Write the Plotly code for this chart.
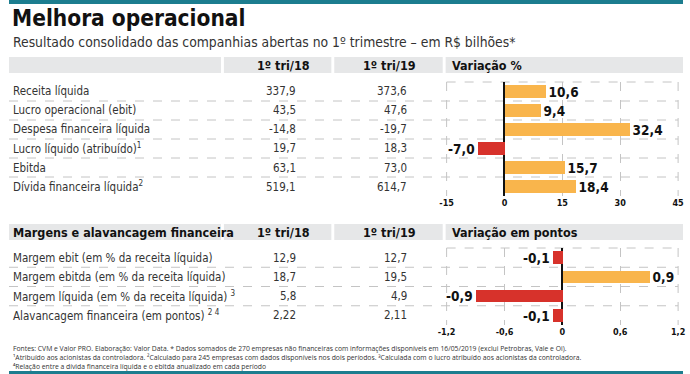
import plotly.graph_objects as go

W, H = 690, 374
COND = "Liberation Sans Narrow, DejaVu Sans Condensed, Roboto Condensed, Arial Narrow, sans-serif"

# ---- data ----
rows1 = ["Receita líquida", "Lucro operacional (ebit)", "Despesa financeira líquida",
         "Lucro líquido (atribuído)<sup>1</sup>", "Ebitda", "Dívida financeira líquida<sup>2</sup>"]
q18_1 = ["337,9", "43,5", "-14,8", "19,7", "63,1", "519,1"]
q19_1 = ["373,6", "47,6", "-19,7", "18,3", "73,0", "614,7"]
var1 = [10.6, 9.4, 32.4, -7.0, 15.7, 18.4]
x1_ticks = [-15, 0, 15, 30, 45]

rows2 = ["Margem ebit (em % da receita líquida)", "Margem ebitda (em % da receita líquida)",
         "Margem líquida (em % da receita líquida) <sup>3</sup>",
         "Alavancagem financeira (em pontos) <sup>2 4</sup>"]
q18_2 = ["12,9", "18,7", "5,8", "2,22"]
q19_2 = ["12,7", "19,5", "4,9", "2,11"]
var2 = [-0.1, 0.9, -0.9, -0.1]
x2_ticks = [-1.2, -0.6, 0, 0.6, 1.2]

ORANGE = "#f9b54c"
RED = "#d7322b"
TEAL = "#1c7d8f"
HDR = "#e6e7e8"
GRID = "#c4c4c4"


def px(x):
    return x / W


def py(y):
    return 1 - y / H


def fmt(v, d=1):
    return f"{v:.{d}f}".replace(".", ",")


def tick_label(v):
    if v == 0:
        return "0"
    return f"{v:g}".replace(".", ",")


fig = go.Figure()

bar_font = dict(family=COND, size=13.5, color="#111", weight="bold")
fig.add_trace(go.Bar(
    x=var1, y=list(range(len(var1))), orientation="h",
    marker=dict(color=[ORANGE if v >= 0 else RED for v in var1], line=dict(width=0)),
    width=0.72, text=[fmt(v) for v in var1], textposition="outside", constraintext="none",
    textfont=bar_font, cliponaxis=False,
    xaxis="x", yaxis="y", hoverinfo="skip", showlegend=False))
fig.add_trace(go.Bar(
    x=var2, y=list(range(len(var2))), orientation="h",
    marker=dict(color=[ORANGE if v >= 0 else RED for v in var2], line=dict(width=0)),
    width=0.66, text=[fmt(v) for v in var2], textposition="outside", constraintext="none",
    textfont=bar_font, cliponaxis=False,
    xaxis="x2", yaxis="y2", hoverinfo="skip", showlegend=False))

C_L, C_R = 448, 685
C1_T, C1_B = 82, 196
C2_T, C2_B = 248, 325

axis_common = dict(showgrid=True, gridcolor=GRID, griddash="dash", gridwidth=1,
                   zeroline=True, zerolinecolor="#111", zerolinewidth=1.5,
                   ticks="", showline=False, fixedrange=True, ticklabeloverflow="allow",
                   tickfont=dict(family=COND, size=9, color="#111", weight="bold"))

annotations = []
shapes = []


def txt(x, y, s, size=13, color="#333", bold=False, xanchor="left", family=COND):
    annotations.append(dict(x=px(x), y=py(y), xref="paper", yref="paper", text=s,
                            showarrow=False, xanchor=xanchor, yanchor="middle", align="left",
                            font=dict(family=family, size=size, color=color,
                                      weight="bold" if bold else "normal")))


def rect(x0, y0, x1, y1, color):
    shapes.append(dict(type="rect", xref="paper", yref="paper", x0=px(x0), x1=px(x1),
                       y0=py(y0), y1=py(y1), fillcolor=color, line=dict(width=0), layer="below"))


def hline(x0, x1, y, dash="dash", color=GRID, width=1):
    shapes.append(dict(type="line", xref="paper", yref="paper", x0=px(x0), x1=px(x1),
                       y0=py(y), y1=py(y), line=dict(color=color, width=width, dash=dash),
                       layer="below"))


def vline(x, y0, y1, dash="dash", color=GRID, width=1):
    shapes.append(dict(type="line", xref="paper", yref="paper", x0=px(x), x1=px(x),
                       y0=py(y0), y1=py(y1), line=dict(color=color, width=width, dash=dash),
                       layer="below"))


rect(0, 0, W, 4, TEAL)
rect(0, 371, W, 374, TEAL)

txt(1, 18, "Melhora operacional", size=22.5, color="#111", bold=True)
txt(2, 42, "Resultado consolidado das companhias abertas no 1º trimestre – em R$ bilhões*",
    size=13.8, color="#333")

for (y0, y1, first, last) in [(57, 73, "", "Variação %"),
                              (224, 240, "Margens e alavancagem financeira", "Variação em pontos")]:
    rect(0, y0, 217, y1, HDR)
    rect(220, y0, 330, y1, HDR)
    rect(333, y0, 444, y1, HDR)
    rect(447, y0, 690, y1, HDR)
    yc = (y0 + y1) / 2
    if first:
        txt(2, yc, first, size=12.5, color="#111", bold=True)
    txt(281, yc, "1º tri/18", size=12.5, color="#111", bold=True, xanchor="center")
    txt(390, yc, "1º tri/19", size=12.5, color="#111", bold=True, xanchor="center")
    txt(451, yc, last, size=12.5, color="#111", bold=True)

ROW_FS = 11.5
ys1 = [C1_T + (i + 0.5) * (C1_B - C1_T) / len(rows1) for i in range(len(rows1))]
for i, y in enumerate(ys1):
    txt(2, y, rows1[i], size=ROW_FS)
    txt(296, y, q18_1[i], size=ROW_FS, xanchor="right")
    txt(409, y, q19_1[i], size=ROW_FS, xanchor="right")
    if i > 0:
        hline(0, C_R, C1_T + i * (C1_B - C1_T) / len(rows1))
hline(C_L, C_R, C1_T)
vline(C_L, C1_T, C1_B)
vline(C_R, C1_T, C1_B)

ys2 = [C2_T + (i + 0.5) * (C2_B - C2_T) / len(rows2) for i in range(len(rows2))]
for i, y in enumerate(ys2):
    txt(2, y, rows2[i], size=ROW_FS)
    txt(296, y, q18_2[i], size=ROW_FS, xanchor="right")
    txt(409, y, q19_2[i], size=ROW_FS, xanchor="right")
    if i > 0:
        hline(0, C_R, C2_T + i * (C2_B - C2_T) / len(rows2))
hline(C_L, C_R, C2_T)
vline(C_L, C2_T, C2_B)
vline(C_R, C2_T, C2_B)

notes = [
    "Fontes: CVM e Valor PRO. Elaboração: Valor Data. * Dados somados de 270 empresas não financeiras com informações disponíveis em 16/05/2019 (exclui Petrobras, Vale e Oi).",
    "¹Atribuído aos acionistas da controladora. ²Calculado para 245 empresas com dados disponíveis nos dois períodos. ³Calculada com o lucro atribuído aos acionistas da controladora.",
    "⁴Relação entre a dívida financeira líquida e o ebitda anualizado em cada período",
]
txt(2, 357, "<br>".join(notes), size=6.8, color="#333",
    family="Open Sans, DejaVu Sans, sans-serif")

fig.update_layout(
    width=W, height=H, margin=dict(l=0, r=0, t=0, b=0),
    paper_bgcolor="white", plot_bgcolor="rgba(0,0,0,0)",
    bargap=0, showlegend=False,
    xaxis=dict(domain=[px(C_L), px(C_R)], range=[-15, 45], tickvals=x1_ticks,
               ticktext=[tick_label(v) for v in x1_ticks], anchor="y", **axis_common),
    yaxis=dict(domain=[py(C1_B), py(C1_T)], range=[len(var1) - 0.5, -0.5], visible=False,
               anchor="x", fixedrange=True),
    xaxis2=dict(domain=[px(C_L), px(C_R)], range=[-1.2, 1.2], tickvals=x2_ticks,
                ticktext=[tick_label(v) for v in x2_ticks], anchor="y2", **axis_common),
    yaxis2=dict(domain=[py(C2_B), py(C2_T)], range=[len(var2) - 0.5, -0.5], visible=False,
                anchor="x2", fixedrange=True),
    annotations=annotations, shapes=shapes,
)

fig.write_html("out.html", config={"displayModeBar": False},
               post_script="document.body.style.margin='0';document.body.style.overflow='hidden';")
